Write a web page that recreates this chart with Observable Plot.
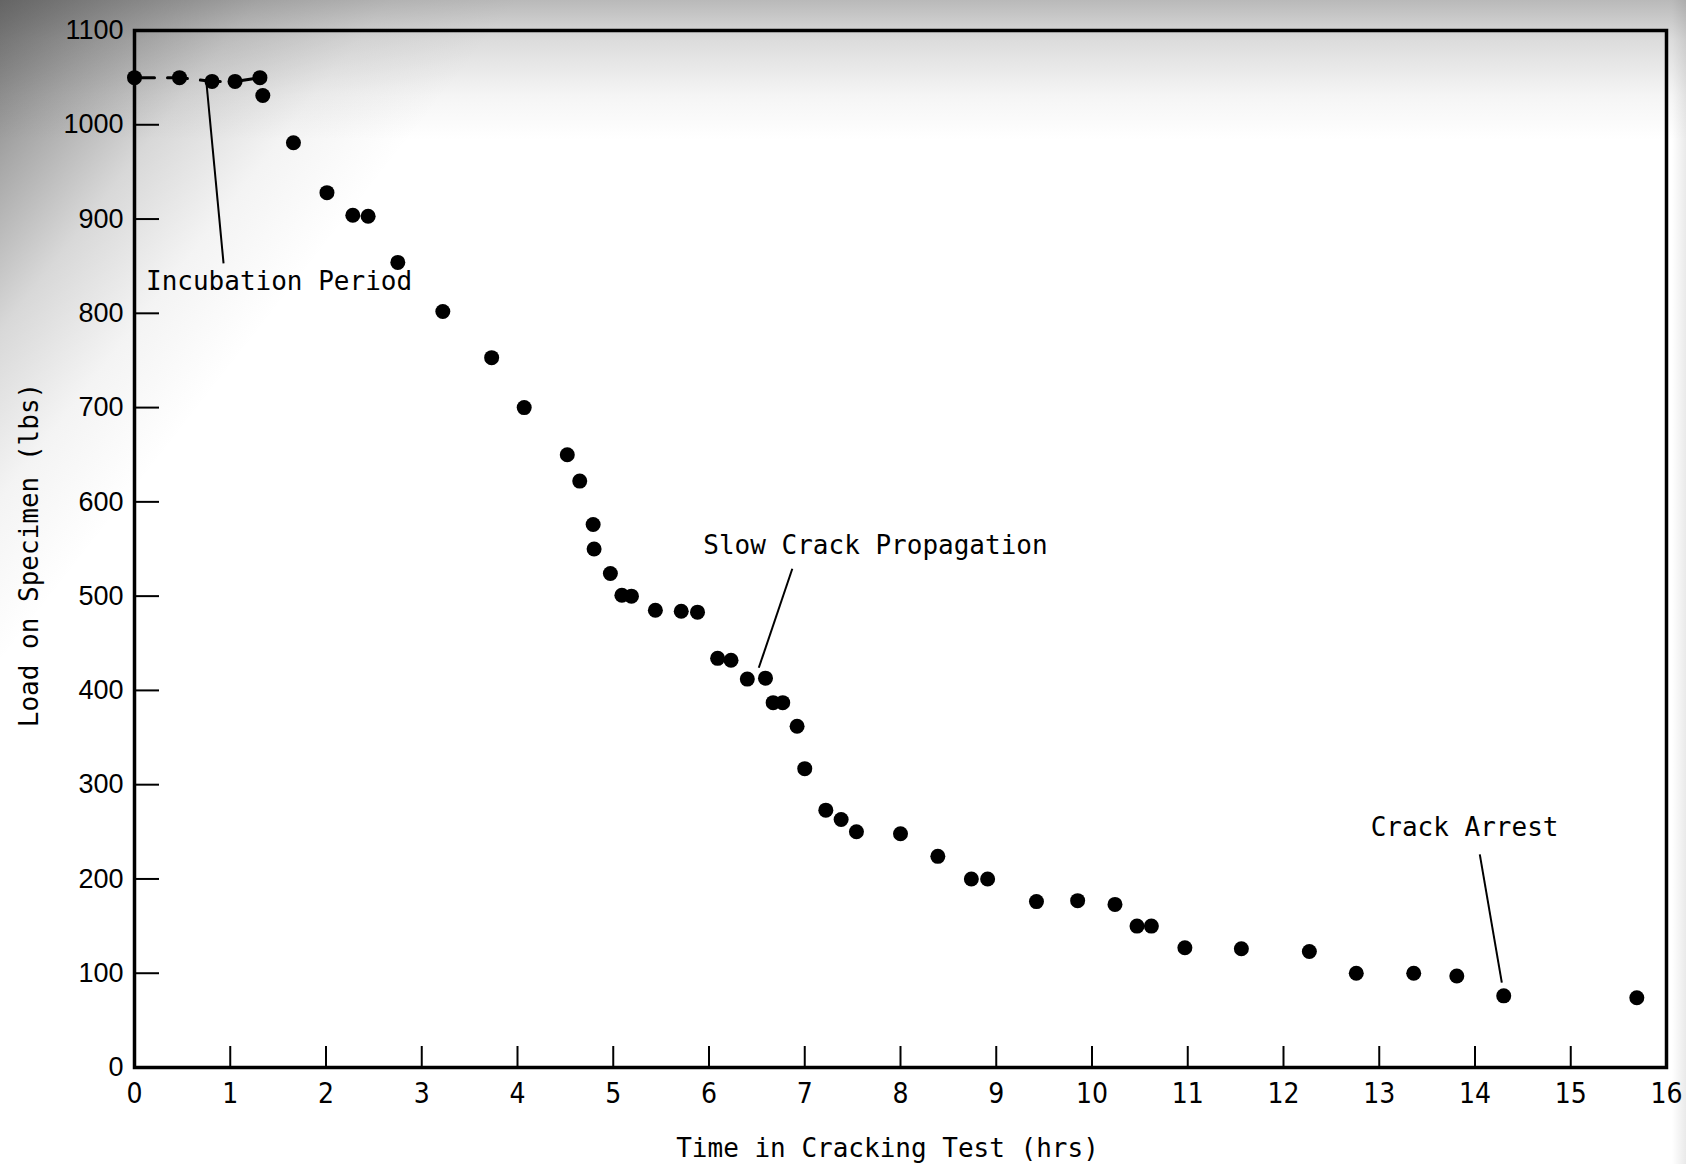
<!DOCTYPE html>
<html>
<head>
<meta charset="utf-8">
<script src="https://cdn.jsdelivr.net/npm/d3@7"></script>
<script src="https://cdn.jsdelivr.net/npm/@observablehq/plot@0.6"></script>
<style>
  html, body { margin: 0; padding: 0; }
  body {
    width: 1686px; height: 1164px; overflow: hidden;
    background:
      linear-gradient(to bottom, rgba(80,80,80,0.4) 0px, rgba(80,80,80,0.2) 40px, rgba(80,80,80,0.06) 95px, rgba(80,80,80,0) 140px),
      linear-gradient(128deg, rgba(60,60,60,0.72) 0%, rgba(60,60,60,0.45) 5%, rgba(60,60,60,0.2) 10%, rgba(60,60,60,0.06) 15%, rgba(60,60,60,0) 20%),
      linear-gradient(to left, rgba(80,80,80,0.12) 0px, rgba(80,80,80,0) 14px),
      #ffffff;
  }
  #chart svg { display: block; }
</style>
</head>
<body>
<div id="chart"></div>
<script>
// Time in cracking test (hrs) and load on specimen (lbs)
const hours = [0, 0.47, 0.81, 1.05, 1.31, 1.34, 1.66, 2.01, 2.28, 2.44,
  2.75, 3.22, 3.73, 4.07, 4.52, 4.65, 4.79, 4.80, 4.97, 5.09,
  5.19, 5.44, 5.71, 5.88, 6.09, 6.23, 6.40, 6.59, 6.67, 6.77,
  6.92, 7.00, 7.22, 7.38, 7.54, 8.00, 8.39, 8.74, 8.91, 9.42,
  9.85, 10.24, 10.47, 10.62, 10.97, 11.56, 12.27, 12.76, 13.36, 13.81,
  14.30, 15.69];
const loads = [1050, 1050, 1046, 1046, 1050, 1031, 981, 928, 904, 903,
  854, 802, 753, 700, 650, 622, 576, 550, 524, 501,
  500, 485, 484, 483, 434, 432, 412, 413, 387, 387,
  362, 317, 273, 263, 250, 248, 224, 200, 200, 176,
  177, 173, 150, 150, 127, 126, 123, 100, 100, 97,
  76, 74];
const incubationCount = 5; // points joined by the dashed line

const xTicks = [0, 1, 2, 3, 4, 5, 6, 7, 8, 9, 10, 11, 12, 13, 14, 15, 16];
const yTicks = [0, 100, 200, 300, 400, 500, 600, 700, 800, 900, 1000, 1100];

const xTitle = "Time in Cracking Test (hrs)";
const yTitle = "Load on Specimen (lbs)";

// annotations
const noteText = ["Incubation Period", "Slow Crack Propagation", "Crack Arrest"];
const noteHours = [0.12, 5.94, 12.91];
const noteLoads = [834, 553, 254];
const leaderHoursFrom = [0.75, 6.87, 14.05];
const leaderLoadsFrom = [1046, 529, 226];
const leaderHoursTo = [0.93, 6.52, 14.28];
const leaderLoadsTo = [853, 424, 90];

const points = hours.map((h, i) => ({h, load: loads[i]}));
const notes = noteText.map((t, i) => ({t, h: noteHours[i], load: noteLoads[i]}));
const leaders = noteText.map((t, i) => ({
  h1: leaderHoursFrom[i], l1: leaderLoadsFrom[i], h2: leaderHoursTo[i], l2: leaderLoadsTo[i]
}));

const mono = "'DejaVu Sans Mono', 'Liberation Mono', monospace";
const narrow = "'Liberation Sans Narrow', 'DejaVu Sans Condensed', 'Liberation Sans', sans-serif";
const sans = "'Liberation Sans', Arial, sans-serif";

const chart = Plot.plot({
  width: 1686,
  height: 1164,
  marginLeft: 134,
  marginRight: 20,
  marginTop: 30,
  marginBottom: 97,
  style: {background: "transparent", color: "black", overflow: "visible"},
  x: {domain: [0, 16]},
  y: {domain: [0, 1100]},
  marks: [
    Plot.axisX(xTicks, {tickSize: -21, tickPadding: 37, strokeWidth: 2, fontSize: 28, fontFamily: narrow, tickFormat: d => String(d), label: null}),
    Plot.axisY(yTicks, {tickSize: -25, tickPadding: 36, strokeWidth: 2, fontSize: 27, fontFamily: sans, tickFormat: d => String(d), label: null}),
    Plot.frame({stroke: "black", strokeWidth: 3.5}),
    Plot.line(points.slice(0, incubationCount), {x: "h", y: "load", stroke: "black", strokeWidth: 3, strokeDasharray: "20,13"}),
    Plot.link(leaders, {x1: "h1", y1: "l1", x2: "h2", y2: "l2", stroke: "black", strokeWidth: 2}),
    Plot.dot(points, {x: "h", y: "load", r: 7.5, fill: "black", stroke: null}),
    Plot.text(notes, {x: "h", y: "load", text: "t", textAnchor: "start", lineAnchor: "middle", fontSize: 26, fontFamily: mono, fill: "black"}),
    Plot.text([xTitle], {text: d => d, frameAnchor: "bottom", textAnchor: "middle", dx: -13, dy: 81, lineAnchor: "middle", fontSize: 26, fontFamily: mono, fill: "black"}),
    Plot.text([yTitle], {text: d => d, frameAnchor: "left", textAnchor: "middle", rotate: -90, dx: -105, dy: 6, lineAnchor: "middle", fontSize: 26, fontFamily: mono, fill: "black"})
  ]
});
document.getElementById("chart").appendChild(chart);
</script>
</body>
</html>
